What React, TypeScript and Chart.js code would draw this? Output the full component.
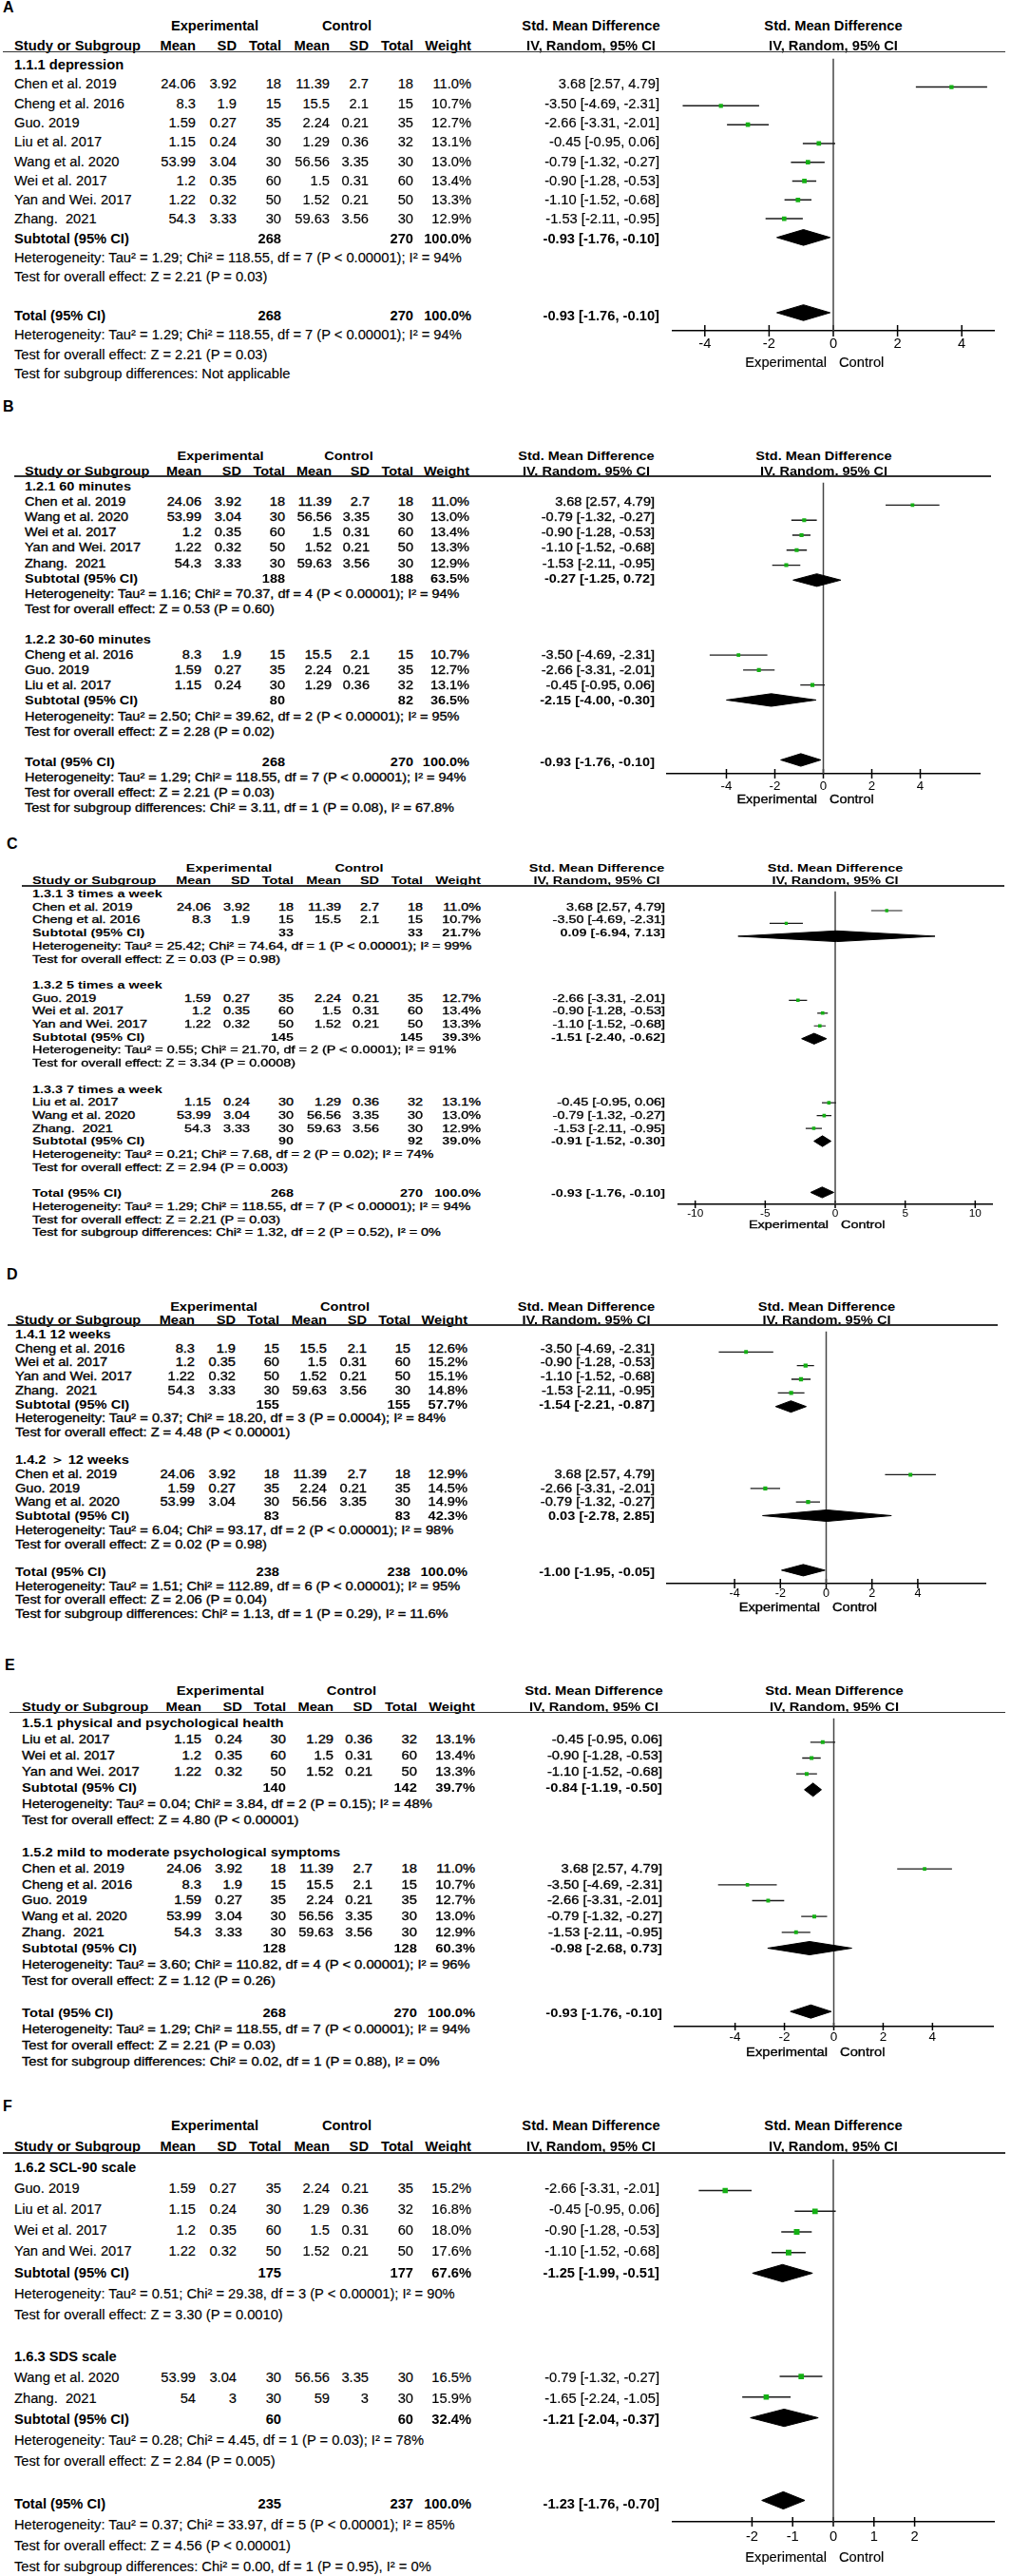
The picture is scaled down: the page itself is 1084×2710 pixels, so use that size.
import React, { useEffect, useRef } from "react";
import { Chart, registerables } from "chart.js";

Chart.register(...registerables);

const FONT = '"Liberation Sans", Arial, Helvetica, sans-serif';
const GREEN = "#14b014";

// ---------------- study level data ----------------
const studyNames = [
  "Chen et al. 2019",
  "Cheng et al. 2016",
  "Guo. 2019",
  "Liu et al. 2017",
  "Wang et al. 2020",
  "Wei et al. 2017",
  "Yan and Wei. 2017",
  "Zhang.  2021",
  "Zhang.  2021",
];
const expMean = [24.06, 8.3, 1.59, 1.15, 53.99, 1.2, 1.22, 54.3, 54];
const expSD = [3.92, 1.9, 0.27, 0.24, 3.04, 0.35, 0.32, 3.33, 3];
const expN = [18, 15, 35, 30, 30, 60, 50, 30, 30];
const ctlMean = [11.39, 15.5, 2.24, 1.29, 56.56, 1.5, 1.52, 59.63, 59];
const ctlSD = [2.7, 2.1, 0.21, 0.36, 3.35, 0.31, 0.21, 3.56, 3];
const ctlN = [18, 15, 35, 32, 30, 60, 50, 30, 30];
const smdEst = [3.68, -3.5, -2.66, -0.45, -0.79, -0.9, -1.1, -1.53, -1.65];
const smdLow = [2.57, -4.69, -3.31, -0.95, -1.32, -1.28, -1.52, -2.11, -2.24];
const smdHigh = [4.79, -2.31, -2.01, 0.06, -0.27, -0.53, -0.68, -0.95, -1.05];

const HET_ALL = "Heterogeneity: Tau² = 1.29; Chi² = 118.55, df = 7 (P < 0.00001); I² = 94%";
const TEST_ALL = "Test for overall effect: Z = 2.21 (P = 0.03)";

// ---------------- Panel A ----------------
const aTitles = ["1.1.1 depression"];
const aGroups = [[0, 1, 2, 3, 4, 5, 6, 7]];
const aWeights = [[11.0, 10.7, 12.7, 13.1, 13.0, 13.4, 13.3, 12.9]];
const aSubExpN = [268];
const aSubCtlN = [270];
const aSubWeight = [100.0];
const aSubEst = [-0.93];
const aSubLow = [-1.76];
const aSubHigh = [-0.1];
const aSubHet = [HET_ALL];
const aSubTest = [TEST_ALL];
const aTotal = [268, 270, -0.93, -1.76, -0.1];
const aTotalText = [HET_ALL, TEST_ALL, "Test for subgroup differences: Not applicable"];
const aTicks = [-4, -2, 0, 2, 4];
const aRange = [-5, 5];

// ---------------- Panel B ----------------
const bTitles = ["1.2.1 60 minutes", "1.2.2 30-60 minutes"];
const bGroups = [[0, 4, 5, 6, 7], [1, 2, 3]];
const bWeights = [[11.0, 13.0, 13.4, 13.3, 12.9], [10.7, 12.7, 13.1]];
const bSubExpN = [188, 80];
const bSubCtlN = [188, 82];
const bSubWeight = [63.5, 36.5];
const bSubEst = [-0.27, -2.15];
const bSubLow = [-1.25, -4.0];
const bSubHigh = [0.72, -0.3];
const bSubHet = [
  "Heterogeneity: Tau² = 1.16; Chi² = 70.37, df = 4 (P < 0.00001); I² = 94%",
  "Heterogeneity: Tau² = 2.50; Chi² = 39.62, df = 2 (P < 0.00001); I² = 95%",
];
const bSubTest = ["Test for overall effect: Z = 0.53 (P = 0.60)", "Test for overall effect: Z = 2.28 (P = 0.02)"];
const bTotal = [268, 270, -0.93, -1.76, -0.1];
const bTotalText = [HET_ALL, TEST_ALL, "Test for subgroup differences: Chi² = 3.11, df = 1 (P = 0.08), I² = 67.8%"];
const bTicks = [-4, -2, 0, 2, 4];
const bRange = [-6.45, 6.45];

// ---------------- Panel C ----------------
const cTitles = ["1.3.1 3 times a week", "1.3.2 5 times a week", "1.3.3 7 times a week"];
const cGroups = [[0, 1], [2, 5, 6], [3, 4, 7]];
const cWeights = [[11.0, 10.7], [12.7, 13.4, 13.3], [13.1, 13.0, 12.9]];
const cSubExpN = [33, 145, 90];
const cSubCtlN = [33, 145, 92];
const cSubWeight = [21.7, 39.3, 39.0];
const cSubEst = [0.09, -1.51, -0.91];
const cSubLow = [-6.94, -2.4, -1.52];
const cSubHigh = [7.13, -0.62, -0.3];
const cSubHet = [
  "Heterogeneity: Tau² = 25.42; Chi² = 74.64, df = 1 (P < 0.00001); I² = 99%",
  "Heterogeneity: Tau² = 0.55; Chi² = 21.70, df = 2 (P < 0.0001); I² = 91%",
  "Heterogeneity: Tau² = 0.21; Chi² = 7.68, df = 2 (P = 0.02); I² = 74%",
];
const cSubTest = [
  "Test for overall effect: Z = 0.03 (P = 0.98)",
  "Test for overall effect: Z = 3.34 (P = 0.0008)",
  "Test for overall effect: Z = 2.94 (P = 0.003)",
];
const cTotal = [268, 270, -0.93, -1.76, -0.1];
const cTotalText = [HET_ALL, TEST_ALL, "Test for subgroup differences: Chi² = 1.32, df = 2 (P = 0.52), I² = 0%"];
const cTicks = [-10, -5, 0, 5, 10];
const cRange = [-11.2, 11.2];

// ---------------- Panel D ----------------
const dTitles = ["1.4.1 12 weeks", "1.4.2 ＞ 12 weeks"];
const dGroups = [[1, 5, 6, 7], [0, 2, 4]];
const dWeights = [[12.6, 15.2, 15.1, 14.8], [12.9, 14.5, 14.9]];
const dSubExpN = [155, 83];
const dSubCtlN = [155, 83];
const dSubWeight = [57.7, 42.3];
const dSubEst = [-1.54, 0.03];
const dSubLow = [-2.21, -2.78];
const dSubHigh = [-0.87, 2.85];
const dSubHet = [
  "Heterogeneity: Tau² = 0.37; Chi² = 18.20, df = 3 (P = 0.0004); I² = 84%",
  "Heterogeneity: Tau² = 6.04; Chi² = 93.17, df = 2 (P < 0.00001); I² = 98%",
];
const dSubTest = ["Test for overall effect: Z = 4.48 (P < 0.00001)", "Test for overall effect: Z = 0.02 (P = 0.98)"];
const dTotal = [238, 238, -1.0, -1.95, -0.05];
const dTotalText = [
  "Heterogeneity: Tau² = 1.51; Chi² = 112.89, df = 6 (P < 0.00001); I² = 95%",
  "Test for overall effect: Z = 2.06 (P = 0.04)",
  "Test for subgroup differences: Chi² = 1.13, df = 1 (P = 0.29), I² = 11.6%",
];
const dTicks = [-4, -2, 0, 2, 4];
const dRange = [-6.95, 6.95];

// ---------------- Panel E ----------------
const eTitles = ["1.5.1 physical and psychological health", "1.5.2 mild to moderate psychological symptoms"];
const eGroups = [[3, 5, 6], [0, 1, 2, 4, 7]];
const eWeights = [[13.1, 13.4, 13.3], [11.0, 10.7, 12.7, 13.0, 12.9]];
const eSubExpN = [140, 128];
const eSubCtlN = [142, 128];
const eSubWeight = [39.7, 60.3];
const eSubEst = [-0.84, -0.98];
const eSubLow = [-1.19, -2.68];
const eSubHigh = [-0.5, 0.73];
const eSubHet = [
  "Heterogeneity: Tau² = 0.04; Chi² = 3.84, df = 2 (P = 0.15); I² = 48%",
  "Heterogeneity: Tau² = 3.60; Chi² = 110.82, df = 4 (P < 0.00001); I² = 96%",
];
const eSubTest = ["Test for overall effect: Z = 4.80 (P < 0.00001)", "Test for overall effect: Z = 1.12 (P = 0.26)"];
const eTotal = [268, 270, -0.93, -1.76, -0.1];
const eTotalText = [HET_ALL, TEST_ALL, "Test for subgroup differences: Chi² = 0.02, df = 1 (P = 0.88), I² = 0%"];
const eTicks = [-4, -2, 0, 2, 4];
const eRange = [-6.45, 6.45];

// ---------------- Panel F ----------------
const fTitles = ["1.6.2 SCL-90 scale", "1.6.3 SDS scale"];
const fGroups = [[2, 3, 5, 6], [4, 8]];
const fWeights = [[15.2, 16.8, 18.0, 17.6], [16.5, 15.9]];
const fSubExpN = [175, 60];
const fSubCtlN = [177, 60];
const fSubWeight = [67.6, 32.4];
const fSubEst = [-1.25, -1.21];
const fSubLow = [-1.99, -2.04];
const fSubHigh = [-0.51, -0.37];
const fSubHet = [
  "Heterogeneity: Tau² = 0.51; Chi² = 29.38, df = 3 (P < 0.00001); I² = 90%",
  "Heterogeneity: Tau² = 0.28; Chi² = 4.45, df = 1 (P = 0.03); I² = 78%",
];
const fSubTest = ["Test for overall effect: Z = 3.30 (P = 0.0010)", "Test for overall effect: Z = 2.84 (P = 0.005)"];
const fTotal = [235, 237, -1.23, -1.76, -0.7];
const fTotalText = [
  "Heterogeneity: Tau² = 0.37; Chi² = 33.97, df = 5 (P < 0.00001); I² = 85%",
  "Test for overall effect: Z = 4.56 (P < 0.00001)",
  "Test for subgroup differences: Chi² = 0.00, df = 1 (P = 0.95), I² = 0%",
];
const fTicks = [-2, -1, 0, 1, 2];
const fRange = [-3.95, 3.95];

// ---------------- assemble ----------------
function pd(titles, groups, weights, subExpN, subCtlN, subW, subEst, subLow, subHigh, subHet, subTest, total, totalText, ticks, range) {
  return { titles, groups, weights, subExpN, subCtlN, subW, subEst, subLow, subHigh, subHet, subTest, total, totalText, ticks, range };
}

// layout (pixel positions / styles) per panel
const LAYOUTS = {
  A: { label: "A", labelX: 3, labelY: 8, row0: 68, pitch: 20.3, axOff: 0.79, size: 14.7, sx: 1.0, stroke: 0.15, nameX: 15, cols: [206, 249, 296, 347, 388, 435, 496], ciR: 694, expC: 226, ctlC: 365, lineL: 3, lineR: 1058, axL: 708, axR: 1046, tickPad: 5.2, tickR: 6, elOff: 33, mk: 1.3, lw: 1.5 },
  B: { label: "B", labelX: 3, labelY: 428, row0: 512, pitch: 16.1, axOff: 0.76, size: 13.3, sx: 1.09, stroke: 0.35, nameX: 26, cols: [212, 254, 300, 349, 389, 435, 494], ciR: 689, expC: 232, ctlC: 367, lineL: 15, lineR: 1043, axL: 702, axR: 1031, tickPad: 5, tickR: 5, elOff: 27, mk: 1.15, lw: 1.3 },
  C: { label: "C", labelX: 7, labelY: 888, row0: 941, pitch: 13.7, axOff: 0.8, size: 11.8, sx: 1.22, stroke: 0.35, nameX: 34, cols: [222, 263, 309, 359, 399, 445, 506], ciR: 700, expC: 241, ctlC: 378, lineL: 23, lineR: 1057, axL: 714, axR: 1044, tickPad: 2.9, tickR: 4, elOff: 22, mk: 1.0, lw: 1.2 },
  D: { label: "D", labelX: 7, labelY: 1341, row0: 1404, pitch: 14.7, axOff: 0.82, size: 12.6, sx: 1.16, stroke: 0.35, nameX: 16, cols: [205, 248, 294, 344, 386, 432, 492], ciR: 689, expC: 225, ctlC: 363, lineL: 8, lineR: 1050, axL: 702, axR: 1037, tickPad: 3.4, tickR: 5, elOff: 25, mk: 1.1, lw: 1.3 },
  E: { label: "E", labelX: 5, labelY: 1752, row0: 1813, pitch: 16.95, axOff: 0.82, size: 13.5, sx: 1.09, stroke: 0.35, nameX: 23, cols: [212, 255, 301, 351, 392, 439, 500], ciR: 697, expC: 232, ctlC: 370, lineL: 10, lineR: 1058, axL: 710, axR: 1045, tickPad: 2.9, tickR: 4, elOff: 27, mk: 1.1, lw: 1.3 },
  F: { label: "F", labelX: 3, labelY: 2216, row0: 2280, pitch: 22.1, axOff: 0.88, size: 14.7, sx: 1.0, stroke: 0.15, nameX: 15, cols: [206, 249, 296, 347, 388, 435, 496], ciR: 694, expC: 226, ctlC: 365, lineL: 3, lineR: 1058, axL: 708, axR: 1046, tickPad: 7.2, tickR: 5, elOff: 37, mk: 1.4, lw: 1.5 },
};

const PANELS = [
  { L: LAYOUTS.A, d: pd(aTitles, aGroups, aWeights, aSubExpN, aSubCtlN, aSubWeight, aSubEst, aSubLow, aSubHigh, aSubHet, aSubTest, aTotal, aTotalText, aTicks, aRange) },
  { L: LAYOUTS.B, d: pd(bTitles, bGroups, bWeights, bSubExpN, bSubCtlN, bSubWeight, bSubEst, bSubLow, bSubHigh, bSubHet, bSubTest, bTotal, bTotalText, bTicks, bRange) },
  { L: LAYOUTS.C, d: pd(cTitles, cGroups, cWeights, cSubExpN, cSubCtlN, cSubWeight, cSubEst, cSubLow, cSubHigh, cSubHet, cSubTest, cTotal, cTotalText, cTicks, cRange) },
  { L: LAYOUTS.D, d: pd(dTitles, dGroups, dWeights, dSubExpN, dSubCtlN, dSubWeight, dSubEst, dSubLow, dSubHigh, dSubHet, dSubTest, dTotal, dTotalText, dTicks, dRange) },
  { L: LAYOUTS.E, d: pd(eTitles, eGroups, eWeights, eSubExpN, eSubCtlN, eSubWeight, eSubEst, eSubLow, eSubHigh, eSubHet, eSubTest, eTotal, eTotalText, eTicks, eRange) },
  { L: LAYOUTS.F, d: pd(fTitles, fGroups, fWeights, fSubExpN, fSubCtlN, fSubWeight, fSubEst, fSubLow, fSubHigh, fSubHet, fSubTest, fTotal, fTotalText, fTicks, fRange) },
];

function buildRows(d: any) {
  const rows: any[] = [];
  d.groups.forEach((g: number[], gi: number) => {
    rows.push({ k: "title", text: d.titles[gi] });
    g.forEach((si, j) => rows.push({ k: "study", si, w: d.weights[gi][j] }));
    rows.push({ k: "sub", n1: d.subExpN[gi], n2: d.subCtlN[gi], w: d.subW[gi], est: d.subEst[gi], lo: d.subLow[gi], hi: d.subHigh[gi] });
    rows.push({ k: "note", text: d.subHet[gi] });
    rows.push({ k: "note", text: d.subTest[gi] });
    rows.push({ k: "blank" });
  });
  const t = d.total;
  rows.push({ k: "total", n1: t[0], n2: t[1], w: 100, est: t[2], lo: t[3], hi: t[4] });
  d.totalText.forEach((s: string) => rows.push({ k: "note", text: s }));
  return rows;
}

const ci = (e: number, l: number, h: number) => `${e.toFixed(2)} [${l.toFixed(2)}, ${h.toFixed(2)}]`;

function Txt({ x, y, s, a = "l", b = false, size, sx = 1, stroke = 0 }: any) {
  const tx = a === "l" ? "0" : a === "r" ? "-100%" : "-50%";
  const origin = a === "l" ? "left center" : a === "r" ? "right center" : "center center";
  return (
    <div
      style={{
        position: "absolute",
        left: x,
        top: y,
        transform: `translate(${tx},-50%) scaleX(${sx})`,
        transformOrigin: origin,
        fontFamily: FONT,
        fontSize: size,
        fontWeight: b ? 700 : 400,
        lineHeight: 1,
        whiteSpace: "pre",
        color: "#000",
        WebkitTextStroke: stroke ? `${stroke}px #000` : undefined,
      }}
    >
      {s}
    </div>
  );
}

const Y_MIN = -0.67;
const AXH = 30;
const PAD = 20;
const OFF = 0.15;
const DIA = 0.42;

function ForestChart({ d, L, rows }: any) {
  const ref = useRef<HTMLCanvasElement>(null);
  const totalIdx = rows.findIndex((r: any) => r.k === "total");
  const top = Math.round(L.row0 + Y_MIN * L.pitch);
  const plotH = Math.round((totalIdx + L.axOff - Y_MIN) * L.pitch);
  const yMax = Y_MIN + plotH / L.pitch;
  const W = L.axR - L.axL + 2 * PAD;
  const H = plotH + AXH;

  useEffect(() => {
    const datasets: any[] = [];
    const studyRows = rows.map((r: any, i: number) => ({ ...r, idx: i })).filter((r: any) => r.k === "study");
    const sumRows = rows.map((r: any, i: number) => ({ ...r, idx: i })).filter((r: any) => r.k === "sub" || r.k === "total");

    datasets.push({
      type: "scatter",
      data: studyRows.map((r: any) => ({ x: smdEst[r.si], y: r.idx - OFF })),
      pointStyle: "rect",
      pointRadius: studyRows.map((r: any) => (L.mk * Math.sqrt(r.w)) / Math.SQRT2),
      pointBackgroundColor: GREEN,
      pointBorderColor: GREEN,
      pointBorderWidth: 0,
      order: 0,
    });
    studyRows.forEach((r: any) =>
      datasets.push({
        type: "line",
        data: [
          { x: smdLow[r.si], y: r.idx - OFF },
          { x: smdHigh[r.si], y: r.idx - OFF },
        ],
        borderColor: "#1a1a1a",
        borderWidth: L.lw,
        pointRadius: 0,
        fill: false,
        order: 1,
      })
    );
    sumRows.forEach((r: any) => {
      const yc = r.idx - OFF;
      datasets.push({
        type: "line",
        data: [
          { x: r.lo, y: yc },
          { x: r.est, y: yc - DIA },
          { x: r.hi, y: yc },
          { x: r.est, y: yc + DIA },
          { x: r.lo, y: yc },
        ],
        borderColor: "#000",
        backgroundColor: "#000",
        borderWidth: 1,
        pointRadius: 0,
        fill: "shape",
        tension: 0,
        order: 2,
      });
    });
    datasets.push({
      type: "line",
      data: [
        { x: 0, y: Y_MIN },
        { x: 0, y: yMax },
      ],
      borderColor: "#444",
      borderWidth: 1.5,
      pointRadius: 0,
      order: 3,
    });
    datasets.push({
      type: "scatter",
      data: d.ticks.map((v: number) => ({ x: v, y: yMax })),
      pointStyle: "line",
      pointRotation: 90,
      pointRadius: L.tickR,
      pointBorderColor: "#000",
      pointBorderWidth: 1.5,
      clip: false,
      order: 4,
    });

    const chart = new Chart(ref.current as HTMLCanvasElement, {
      type: "scatter",
      data: { datasets },
      options: {
        animation: false,
        responsive: false,
        maintainAspectRatio: false,
        devicePixelRatio: 1,
        events: [],
        layout: { padding: { left: PAD, right: PAD, top: 0, bottom: 0 } },
        plugins: { legend: { display: false }, tooltip: { enabled: false }, title: { display: false } },
        scales: {
          x: {
            type: "linear",
            position: "bottom",
            min: d.range[0],
            max: d.range[1],
            grid: { display: false, drawTicks: false },
            border: { display: true, color: "#000", width: 1.5 },
            ticks: {
              padding: L.tickPad,
              color: "#000",
              font: { family: FONT, size: L.size },
              autoSkip: false,
              maxRotation: 0,
              callback: (v: any) => String(v),
            },
            afterBuildTicks: (s: any) => {
              s.ticks = d.ticks.map((v: number) => ({ value: v }));
            },
            afterFit: (s: any) => {
              s.height = AXH;
            },
          },
          y: { type: "linear", reverse: true, min: Y_MIN, max: yMax, display: false },
        },
      } as any,
    });
    return () => chart.destroy();
  }, []);

  return (
    <canvas
      ref={ref}
      width={W}
      height={H}
      style={{ position: "absolute", left: L.axL - PAD, top, width: W, height: H }}
    />
  );
}

function Panel({ d, L }: any) {
  const rows = buildRows(d);
  const Y = (r: number) => L.row0 + r * L.pitch;
  const zeroX = L.axL + ((0 - d.range[0]) / (d.range[1] - d.range[0])) * (L.axR - L.axL);
  const smdC = L.ciR - 72;
  const c = L.cols;
  const f = { size: L.size, sx: L.sx };
  const els: any[] = [];
  let key = 0;
  const T = (x: number, y: number, s: any, a = "l", b = false) =>
    els.push(<Txt key={key++} x={x} y={y} s={String(s)} a={a} b={b} stroke={b ? 0 : L.stroke} {...f} />);

  // panel letter
  els.push(<Txt key={key++} x={L.labelX} y={L.labelY} s={L.label} b size={16} />);
  // headers
  const h1 = Y(-2);
  const h2 = Y(-1);
  T(L.expC, h1, "Experimental", "c", true);
  T(L.ctlC, h1, "Control", "c", true);
  T(smdC, h1, "Std. Mean Difference", "c", true);
  T(zeroX, h1, "Std. Mean Difference", "c", true);
  T(L.nameX, h2, "Study or Subgroup", "l", true);
  ["Mean", "SD", "Total", "Mean", "SD", "Total", "Weight"].forEach((s, i) => T(c[i], h2, s, "r", true));
  T(smdC, h2, "IV, Random, 95% CI", "c", true);
  T(zeroX, h2, "IV, Random, 95% CI", "c", true);
  els.push(
    <div
      key={key++}
      style={{ position: "absolute", left: L.lineL, top: Y(Y_MIN) - 0.75, width: L.lineR - L.lineL, height: 1.5, background: "#333" }}
    />
  );

  rows.forEach((r: any, i: number) => {
    const y = Y(i);
    if (r.k === "title") T(L.nameX, y, r.text, "l", true);
    else if (r.k === "note") T(L.nameX, y, r.text);
    else if (r.k === "study") {
      const si = r.si;
      T(L.nameX, y, studyNames[si]);
      T(c[0], y, expMean[si], "r");
      T(c[1], y, expSD[si], "r");
      T(c[2], y, expN[si], "r");
      T(c[3], y, ctlMean[si], "r");
      T(c[4], y, ctlSD[si], "r");
      T(c[5], y, ctlN[si], "r");
      T(c[6], y, `${r.w.toFixed(1)}%`, "r");
      T(L.ciR, y, ci(smdEst[si], smdLow[si], smdHigh[si]), "r");
    } else if (r.k === "sub" || r.k === "total") {
      T(L.nameX, y, r.k === "sub" ? "Subtotal (95% CI)" : "Total (95% CI)", "l", true);
      T(c[2], y, r.n1, "r", true);
      T(c[5], y, r.n2, "r", true);
      T(c[6], y, `${r.w.toFixed(1)}%`, "r", true);
      T(L.ciR, y, ci(r.est, r.lo, r.hi), "r", true);
    }
  });

  const totalIdx = rows.findIndex((r: any) => r.k === "total");
  const top = Math.round(L.row0 + Y_MIN * L.pitch);
  const plotH = Math.round((totalIdx + L.axOff - Y_MIN) * L.pitch);
  const axisY = top + plotH;
  T(zeroX - 7, axisY + L.elOff, "Experimental", "r");
  T(zeroX + 6, axisY + L.elOff, "Control", "l");

  return (
    <>
      <ForestChart d={d} L={L} rows={rows} />
      {els}
    </>
  );
}

export default function App() {
  return (
    <div
      style={{
        position: "absolute",
        left: 0,
        top: 0,
        width: 1084,
        height: 2710,
        overflow: "hidden",
        background: "#fff",
      }}
    >
      {PANELS.map((p, i) => (
        <Panel key={i} d={p.d} L={p.L} />
      ))}
    </div>
  );
}
